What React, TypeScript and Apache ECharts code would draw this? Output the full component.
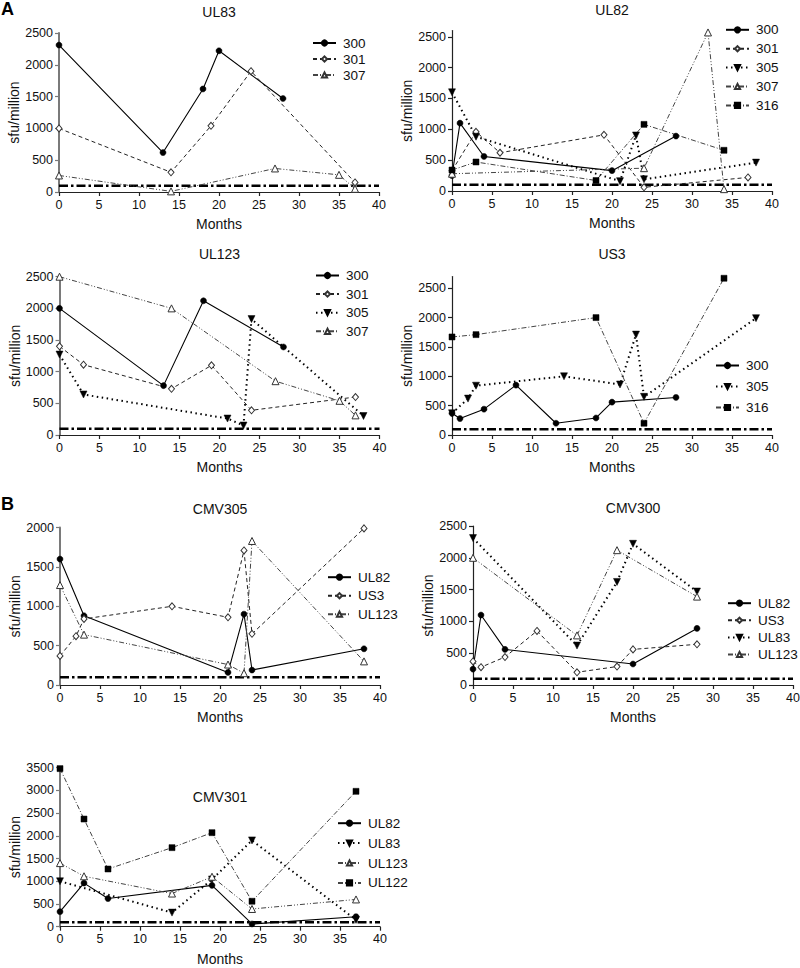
import React, { useEffect, useRef } from "react";
import * as echarts from "echarts";

// ---------- data ----------
const monthTicks = [0, 5, 10, 15, 20, 25, 30, 35, 40];
const ticks2000 = [0, 500, 1000, 1500, 2000];
const ticks2500 = [0, 500, 1000, 1500, 2000, 2500];
const ticks3500 = [0, 500, 1000, 1500, 2000, 2500, 3000, 3500];
const threshold = 100;

// Panel A – UL83
const ul83_300 = [[0, 2310], [13, 620], [18, 1620], [20, 2220], [28, 1470]];
const ul83_301 = [[0, 1000], [14, 310], [19, 1040], [24, 1900], [37, 150]];
const ul83_307 = [[0, 260], [14, 10], [27, 370], [35, 270], [37, 50]];
// UL82
const ul82_300 = [[0, 250], [1, 1100], [4, 560], [20, 330], [28, 890]];
const ul82_301 = [[0, 330], [3, 960], [6, 620], [19, 910], [24, 60], [37, 220]];
const ul82_305 = [[0, 1600], [3, 880], [21, 160], [23, 900], [24, 190], [38, 460]];
const ul82_307 = [[0, 280], [24, 370], [32, 2570], [34, 30]];
const ul82_316 = [[0, 340], [3, 470], [18, 170], [24, 1080], [34, 660]];
// UL123
const ul123_300 = [[0, 2000], [13, 780], [18, 2120], [28, 1390]];
const ul123_301 = [[0, 1400], [3, 1110], [14, 730], [19, 1100], [24, 390], [37, 600]];
const ul123_305 = [[0, 1270], [3, 640], [21, 260], [23, 150], [24, 1830], [38, 300]];
const ul123_307 = [[0, 2500], [14, 2000], [27, 850], [35, 540], [37, 310]];
// US3
const us3_300 = [[0, 370], [1, 280], [4, 440], [8, 850], [13, 200], [18, 290], [20, 560], [28, 640]];
const us3_305 = [[0, 370], [2, 620], [3, 840], [14, 1000], [21, 860], [23, 1710], [24, 650], [38, 1990]];
const us3_316 = [[0, 1670], [3, 1710], [18, 2000], [24, 200], [34, 2670]];
// Panel B – CMV301 UL122
const ul122_301 = [[0, 3480], [3, 2370], [6, 1270], [14, 1740], [19, 2070], [24, 560], [37, 2980]];

// ---------- styles ----------
const FONT = "'Liberation Sans', Arial, Helvetica, sans-serif";

const solidCircle = {
  symbol: "circle", symbolSize: 6, symbolRotate: 0,
  itemStyle: { color: "#000", borderColor: "#000", borderWidth: 0.5 },
  lineStyle: { color: "#000", width: 1.1, type: "solid" },
};
const dashDiamond = {
  symbol: "diamond", symbolSize: [6, 7], symbolRotate: 0,
  itemStyle: { color: "#fff", borderColor: "#333", borderWidth: 1 },
  lineStyle: { color: "#222", width: 1, type: [4, 3] },
};
const dotTriDown = {
  symbol: "triangle", symbolSize: 7, symbolRotate: 180,
  itemStyle: { color: "#000", borderColor: "#000", borderWidth: 0.5 },
  lineStyle: { color: "#000", width: 2, type: [1.5, 3.5] },
};
const dashDotTri = {
  symbol: "triangle", symbolSize: 7, symbolRotate: 0,
  itemStyle: { color: "#fff", borderColor: "#333", borderWidth: 1 },
  lineStyle: { color: "#444", width: 1, type: [5, 2, 1, 2, 1, 2] },
};
const dashDotSquare = {
  symbol: "rect", symbolSize: 6, symbolRotate: 0,
  itemStyle: { color: "#000", borderColor: "#000", borderWidth: 0.5 },
  lineStyle: { color: "#444", width: 1, type: [5, 2, 1, 2] },
};
const styleFor: Record<string, any> = {
  "300": solidCircle, UL82: solidCircle,
  "301": dashDiamond, US3: dashDiamond,
  "305": dotTriDown, UL83: dotTriDown,
  "307": dashDotTri, UL123: dashDotTri,
  "316": dashDotSquare, UL122: dashDotSquare,
};

// ---------- layout ----------
const panels = [
  { title: "UL83", left: 59, top: 33, height: 159, max: 2500, yt: ticks2500, axisGrey: true, titleY: 12,
    series: [["300", ul83_300], ["301", ul83_301], ["307", ul83_307]],
    legend: { left: 312, top: 36, gap: 2 } },
  { title: "UL82", left: 452, top: 30.6, height: 160.4, max: 2600, yt: ticks2500, axisGrey: false, titleY: 10,
    series: [["300", ul82_300], ["301", ul82_301], ["305", ul82_305], ["307", ul82_307], ["316", ul82_316]],
    legend: { left: 725, top: 22.8, gap: 4.9 } },
  { title: "UL123", left: 59.5, top: 276.7, height: 158.3, max: 2500, yt: ticks2500, axisGrey: true, titleY: 254,
    series: [["300", ul123_300], ["301", ul123_301], ["305", ul123_305], ["307", ul123_307]],
    legend: { left: 315, top: 268.5, gap: 4.6 } },
  { title: "US3", left: 452, top: 276.5, height: 158.5, max: 2700, yt: ticks2500, axisGrey: false, titleY: 253.5,
    series: [["300", us3_300], ["305", us3_305], ["316", us3_316]],
    legend: { left: 715, top: 358.5, gap: 7 } },
  { title: "CMV305", left: 60, top: 527.6, height: 157.4, max: 2000, yt: ticks2000, axisGrey: true, titleY: 508.5,
    series: [["UL82", ul82_305], ["US3", us3_305], ["UL123", ul123_305]],
    legend: { left: 327, top: 570.2, gap: 4.5 } },
  { title: "CMV300", left: 473, top: 526, height: 159, max: 2500, yt: ticks2500, axisGrey: false, titleY: 508,
    series: [["UL82", ul82_300], ["US3", us3_300], ["UL83", ul83_300], ["UL123", ul123_300]],
    legend: { left: 727, top: 596.2, gap: 3.1 } },
  { title: "CMV301", left: 60, top: 767.7, height: 159, max: 3500, yt: ticks3500, axisGrey: true, titleY: 796.7,
    series: [["UL82", ul82_301], ["UL83", ul83_301], ["UL123", ul123_301], ["UL122", ul122_301]],
    legend: { left: 337, top: 816.2, gap: 5.9 } },
];
const PLOT_W = 320;

function buildOption() {
  const grid: any[] = [];
  const xAxis: any[] = [];
  const yAxis: any[] = [];
  const series: any[] = [];
  const legend: any[] = [];
  const graphic: any[] = [];

  panels.forEach((p, i) => {
    grid.push({ left: p.left, top: p.top, width: PLOT_W, height: p.height, containLabel: false, outerBoundsMode: "none" });
    const axisColor = p.axisGrey ? "#7a7a7a" : "#222";
    xAxis.push({
      type: "value", gridIndex: i, min: 0, max: 40, interval: 5,
      axisLine: { show: true, onZero: false, lineStyle: { color: "#222", width: 1.2 } },
      axisTick: { show: true, length: 4, lineStyle: { color: "#222", width: 1.2 } },
      axisLabel: { fontSize: 12.5, color: "#111", margin: 6, fontFamily: FONT, customValues: monthTicks,
        formatter: (v: number) => String(v) },
      splitLine: { show: false },
      name: "Months", nameLocation: "middle", nameGap: 25,
      nameTextStyle: { fontSize: 14, color: "#111", fontFamily: FONT },
    });
    yAxis.push({
      type: "value", gridIndex: i, min: 0, max: p.max, interval: 500,
      axisLine: { show: true, lineStyle: { color: axisColor, width: p.axisGrey ? 2 : 1.2 } },
      axisTick: { show: true, length: 4, customValues: p.yt, lineStyle: { color: axisColor, width: 1.2 } },
      axisLabel: { fontSize: 12.5, color: "#111", margin: 6, fontFamily: FONT, customValues: p.yt,
        formatter: (v: number) => String(v) },
      splitLine: { show: false },
      name: "sfu/million", nameLocation: "middle", nameGap: 36, nameRotate: 90,
      nameTextStyle: { fontSize: 14, color: "#111", fontFamily: FONT },
    });
    // detection threshold
    series.push({
      type: "line", name: "_threshold" + i, xAxisIndex: i, yAxisIndex: i,
      data: [[0, threshold], [40, threshold]], symbol: "none", silent: true, z: 1,
      lineStyle: { color: "#000", width: 2.5, type: [9, 3, 2.5, 3] },
    });
    p.series.forEach(([name, data]: any) => {
      const st = styleFor[name];
      series.push({
        type: "line", name, xAxisIndex: i, yAxisIndex: i, data,
        symbol: st.symbol, symbolSize: st.symbolSize, symbolRotate: st.symbolRotate,
        itemStyle: st.itemStyle, lineStyle: st.lineStyle, z: 3, showAllSymbol: true,
      });
    });
    legend.push({
      orient: "vertical", left: p.legend.left, top: p.legend.top, padding: 0,
      itemGap: p.legend.gap, itemWidth: 23, itemHeight: 6.5, selectedMode: false,
      data: p.series.map((s: any) => s[0]),
      textStyle: { fontSize: 13.5, color: "#111", fontFamily: FONT, padding: [0, 0, 0, 2] },
    });
    graphic.push({
      type: "text", x: p.left + PLOT_W / 2, y: p.titleY,
      style: { text: p.title, fontSize: 14, fontWeight: "normal", fontFamily: FONT, fill: "#111", align: "center", verticalAlign: "middle" },
    });
  });

  graphic.push({
    type: "text", x: 1, y: 0,
    style: { text: "A", fontSize: 18, fontWeight: "bold", fontFamily: FONT, fill: "#000", align: "left", verticalAlign: "top" },
  });
  graphic.push({
    type: "text", x: 1, y: 495,
    style: { text: "B", fontSize: 18, fontWeight: "bold", fontFamily: FONT, fill: "#000", align: "left", verticalAlign: "top" },
  });

  return {
    animation: false,
    backgroundColor: "#fff",
    textStyle: { fontFamily: FONT },
    grid, xAxis, yAxis, series, legend, graphic,
  };
}

export default function App() {
  const ref = useRef<HTMLDivElement>(null);
  useEffect(() => {
    document.body.style.margin = "0";
    if (!ref.current) return;
    const chart = echarts.init(ref.current, undefined, { renderer: "svg" });
    chart.setOption(buildOption() as any);
    return () => chart.dispose();
  }, []);
  return <div ref={ref} style={{ width: 800, height: 968 }} />;
}
